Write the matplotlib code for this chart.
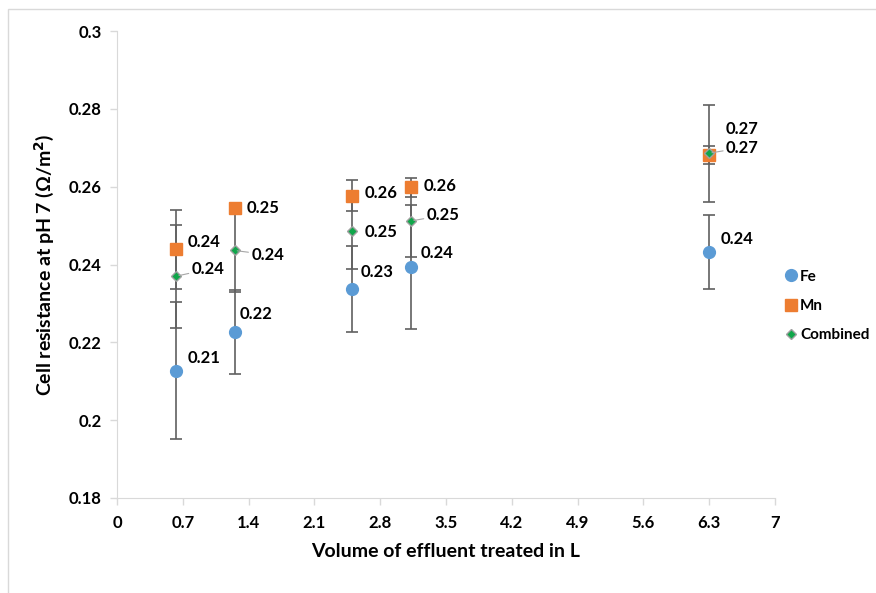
import matplotlib.pyplot as plt
from matplotlib.patches import Rectangle
from matplotlib.lines import Line2D

plt.rcParams['font.family'] = ['Lato', 'DejaVu Sans']
plt.rcParams['font.weight'] = 'bold'

# data
volume = [0.63, 1.25, 2.5, 3.13, 6.3]
fe = [0.2127, 0.2227, 0.2337, 0.2394, 0.2431]
fe_err = [0.0176, 0.0108, 0.0110, 0.0159, 0.0095]
mn = [0.2439, 0.2545, 0.2577, 0.2598, 0.2681]
mn_err = [0.0101, 0.0010, 0.0039, 0.0024, 0.0024]
comb = [0.2370, 0.2436, 0.2486, 0.2512, 0.2686]
comb_err = [0.0132, 0.0106, 0.0098, 0.0092, 0.0125]

xticks = [0, 0.7, 1.4, 2.1, 2.8, 3.5, 4.2, 4.9, 5.6, 6.3, 7]
yticks = [0.18, 0.2, 0.22, 0.24, 0.26, 0.28, 0.3]

# label offsets in points (layout only)
fe_off = [(8, 9), (4, 13), (6, 12), (7, 10), (8, 10)]
mn_off = [(8, 5), (9, 0), (9, 2), (9, 1), (12, 19)]
comb_off = [(11, 5), (12, -3), (9, -1), (11, 4), (12, 4)]
comb_leader = [True, True, False, True, True]

fig = plt.figure(figsize=(8.76, 5.93), dpi=100)
# chart-area border: only top and left edges fall inside the picture
fig.patches.append(Rectangle((8 / 876, -0.1), 1.2, 1.1 - 9 / 593,
                             transform=fig.transFigure, fill=False,
                             edgecolor='#d9d9d9', linewidth=1))
ax = fig.add_axes([117 / 876, 1 - 498 / 593, 658 / 876, 467 / 593])

# error bars behind all markers
ecol = '#606060'
for vals, errs in [(fe, fe_err), (mn, mn_err), (comb, comb_err)]:
    ax.errorbar(volume, vals, yerr=errs, fmt='none', ecolor=ecol,
                elinewidth=1.2, capsize=4, capthick=1.2, zorder=2)

ax.plot(volume, fe, 'o', color='#5b9bd5', ms=8.5, zorder=3)
ax.plot(volume, mn, 's', color='#ed7d31', ms=8.5, zorder=4)
ax.plot(volume, comb, 'D', mfc='#10a64a', mec='#a0a0a0', mew=1, ms=5.5, zorder=5)

lab_kw = dict(textcoords='offset points', fontsize=12, fontweight='bold',
              va='center', ha='left')
for x, v, off in zip(volume, fe, fe_off):
    ax.annotate(f'{v:.2f}', (x, v), xytext=off, **lab_kw)
for x, v, off in zip(volume, mn, mn_off):
    ax.annotate(f'{v:.2f}', (x, v), xytext=off, **lab_kw)
for x, v, off, lead in zip(volume, comb, comb_off, comb_leader):
    ap = dict(arrowstyle='-', color='#a6a6a6', lw=0.8, shrinkA=0, shrinkB=2) if lead else None
    ax.annotate(f'{v:.2f}', (x, v), xytext=off, arrowprops=ap, zorder=6, **lab_kw)

ax.set_xlim(0, 7)
ax.set_ylim(0.18, 0.3)
ax.set_xticks(xticks)
ax.set_xticklabels([f'{t:g}' for t in xticks])
ax.set_yticks(yticks)
ax.set_yticklabels([f'{t:g}' for t in yticks])
ax.tick_params(axis='both', direction='out', length=5, color='#d9d9d9',
               labelsize=12, width=1)
ax.tick_params(axis='x', pad=7)
ax.tick_params(axis='y', pad=6)
for lab in ax.get_xticklabels() + ax.get_yticklabels():
    lab.set_fontweight('bold')

for s in ['top', 'right']:
    ax.spines[s].set_visible(False)
for s in ['left', 'bottom']:
    ax.spines[s].set_color('#d9d9d9')

ax.set_xlabel('Volume of effluent treated in L', fontsize=14, fontweight='bold', labelpad=9)
ax.set_ylabel('Cell resistance at pH 7 (Ω/m$^\\mathbf{2}$)', fontsize=14,
              fontweight='bold', labelpad=9)

handles = [
    Line2D([], [], marker='o', ls='none', color='#5b9bd5', ms=8.5),
    Line2D([], [], marker='s', ls='none', color='#ed7d31', ms=8.5),
    Line2D([], [], marker='D', ls='none', mfc='#10a64a', mec='#a0a0a0', ms=5.5),
]
fig.legend(handles, ['Fe', 'Mn', 'Combined'], loc='upper left',
           bbox_to_anchor=(778 / 876, 1 - 262 / 593), frameon=False,
           prop=dict(size=11, weight='bold'), handlelength=0.7,
           handletextpad=0.25, labelspacing=1.0, borderpad=0)

fig.savefig('out.png', dpi=100)
